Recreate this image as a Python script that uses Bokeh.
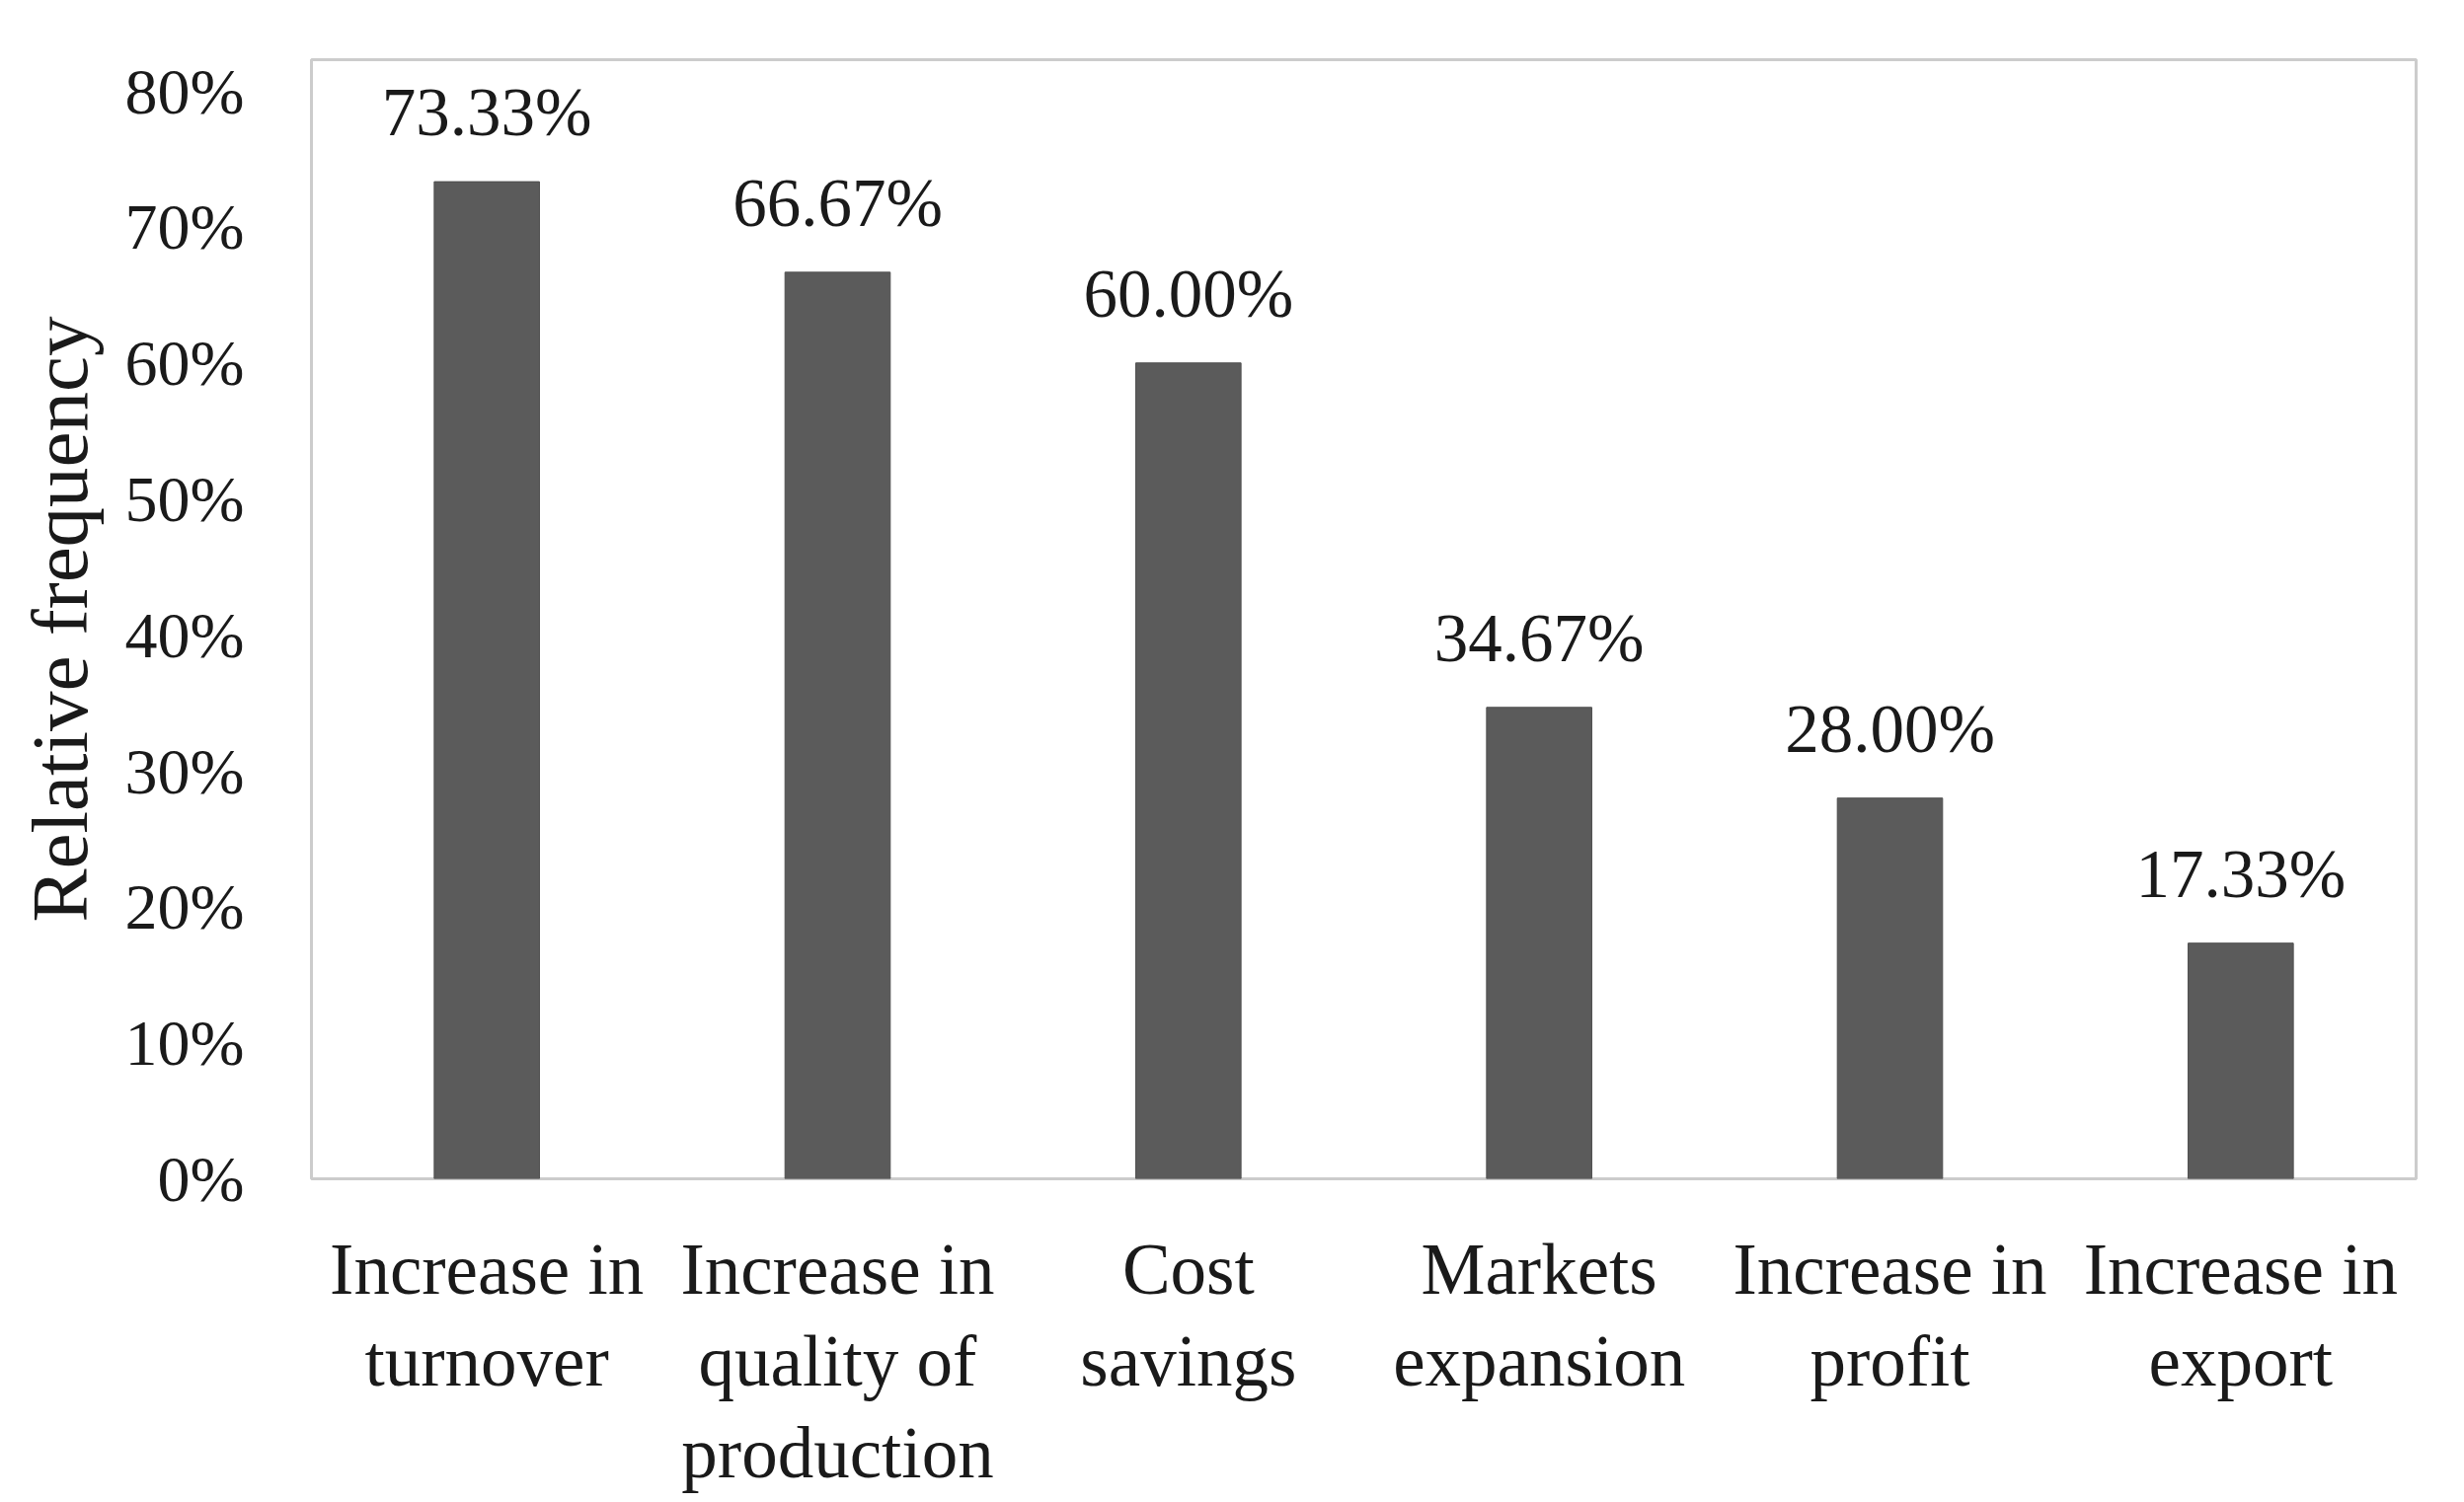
from bokeh.plotting import figure
from bokeh.models import ColumnDataSource, LabelSet, FixedTicker, FactorRange, Range1d
from bokeh.core.properties import value
from bokeh.embed import file_html
from bokeh.resources import INLINE

categories = [
    "Increase in\nturnover",
    "Increase in\nquality of\nproduction",
    "Cost\nsavings",
    "Markets\nexpansion",
    "Increase in\nprofit",
    "Increase in\nexport",
]
values = [73.33, 66.67, 60.00, 34.67, 28.00, 17.33]
y_ticks = [0, 10, 20, 30, 40, 50, 60, 70, 80]
y_tick_labels = ["0%", "10%", "20%", "30%", "40%", "50%", "60%", "70%", "80%"]

FONT = "Liberation Serif"

src = ColumnDataSource(dict(
    cat=categories,
    val=values,
    lab=["%.2f%%" % v for v in values],
))

p = figure(
    width=2496, height=1522,
    x_range=FactorRange(factors=categories, range_padding=0),
    y_range=Range1d(0, 82.3),
    output_backend="svg", toolbar_location=None,
    min_border_left=315, min_border_right=49, min_border_top=60, min_border_bottom=328,
)
p.vbar(x="cat", top="val", width=0.30, source=src, fill_color="#5b5b5b", line_color="#4f4f4f", line_width=1)

labels = LabelSet(x="cat", y="val", text="lab", source=src, y_offset=70,
                  text_align="center", text_baseline="middle",
                  text_font=value(FONT), text_font_size="69px", text_color="#1a1a1a")
p.add_layout(labels)

p.outline_line_color = "#cccccc"
p.outline_line_width = 3
p.xgrid.grid_line_color = None
p.ygrid.grid_line_color = None
p.background_fill_color = "white"
p.border_fill_color = "white"

p.yaxis.ticker = FixedTicker(ticks=y_ticks)
p.yaxis.major_label_overrides = {t: l for t, l in zip(y_ticks, y_tick_labels)}
p.yaxis.axis_line_color = None
p.yaxis.major_tick_line_color = None
p.yaxis.minor_tick_line_color = None
p.yaxis.major_label_text_font = FONT
p.yaxis.major_label_text_font_size = "66px"
p.yaxis.major_label_text_color = "#1a1a1a"
p.yaxis.major_label_standoff = 62
p.yaxis.axis_label = "Relative frequency"
p.yaxis.axis_label_text_font = FONT
p.yaxis.axis_label_text_font_size = "81px"
p.yaxis.axis_label_text_font_style = "normal"
p.yaxis.axis_label_text_color = "#1a1a1a"
p.yaxis.axis_label_standoff = 18

p.xaxis.axis_line_color = None
p.xaxis.major_tick_line_color = None
p.xaxis.minor_tick_line_color = None
p.xaxis.major_label_text_font = FONT
p.xaxis.major_label_text_font_size = "73px"
p.xaxis.major_label_text_color = "#1a1a1a"
p.xaxis.major_label_text_line_height = 1.15
p.xaxis.major_label_standoff = 45

open("out.html", "w").write(file_html(p, INLINE))
